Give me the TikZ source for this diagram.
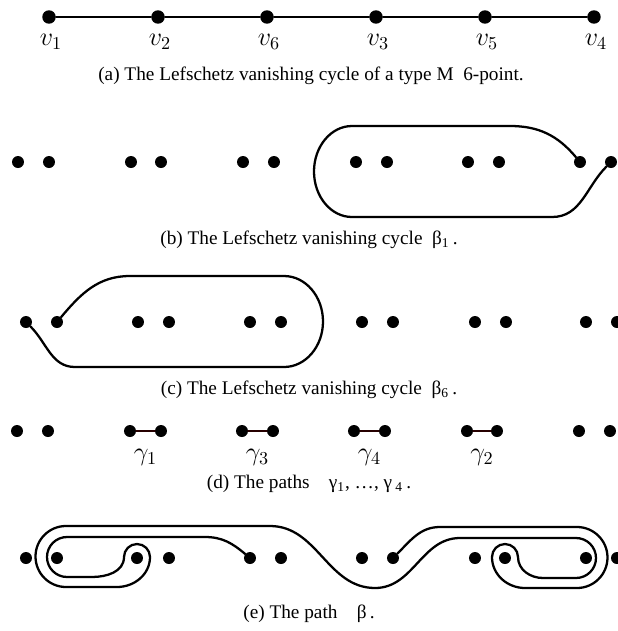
\documentclass[tikz,border=0pt]{standalone}
\usepackage{fontspec}
\setmainfont{Liberation Serif}
\usetikzlibrary{calc,positioning}

\begin{document}
\begin{tikzpicture}[x=0.55pt, y=0.55pt, line cap=round,
    dot/.style={circle, fill=black, inner sep=0pt, minimum size=6.6pt},
    bigdot/.style={dot, minimum size=7.4pt},
    curve/.style={line width=1.25pt},
    bond/.style={line width=1.4pt, draw=black!85!red},
    caption/.style={font=\fontsize{10.6}{12}\selectfont}]
    \useasboundingbox (0,0) rectangle (618,-631);
    \def\ra{-17}    % chain of the 6-point
    \def\rb{-162}   % cycle beta_1
    \def\rc{-322}   % cycle beta_6
    \def\rd{-431}   % paths gamma_i
    \def\re{-558}   % path beta

    % (a) The chain v_1 ... v_4
    \foreach \n/\x/\l in {1/49/v_1, 2/158/v_2, 3/267/v_6, 4/376/v_3, 5/485/v_5, 6/594/v_4}{
        \node[bigdot] (a\n) at (\x,\ra) {};
        \node (la\n) at (\x+2,\ra-25) {\Large $\l$};
    }
    \draw[line width=1.3pt] (a1) -- (a2) -- (a3) -- (a4) -- (a5) -- (a6);
    \node[caption] (capa) at (311,-76) {(a) The Lefschetz vanishing cycle of a type M\ \ 6-point.};

    % (b) Cycle beta_1 round the two right points
    \foreach \n/\x in {1/18, 2/49, 3/131, 4/161, 5/243, 6/274, 7/356, 8/387, 9/468, 10/499, 11/580, 12/611}
        \node[dot] (b\n) at (\x,\rb) {};
    \draw[curve] (b11) to[out=130, in=0] (510,-126) -- (352,-126)
        arc[start angle=90, end angle=270, x radius=38, y radius=45.5]
        -- (552,-217) to[out=0, in=-135] (b12);
    \node[caption] (capb) at (309,-240) {(b) The Lefschetz vanishing cycle\ \ β\textsubscript{1}\,.};

    % (c) Cycle beta_6 round the two left points
    \foreach \n/\x in {1/26, 2/57, 3/138, 4/169, 5/250, 6/281, 7/362, 8/393, 9/475, 10/506, 11/586, 12/617}
        \node[dot] (c\n) at (\x,\rc) {};
    \draw[curve] (c2) to[out=50, in=180] (130,-276) -- (284,-276)
        arc[start angle=90, end angle=-90, x radius=39, y radius=45.5]
        -- (75,-367) to[out=180, in=-45] (c1);
    \node[caption] (capc) at (309,-390) {(c) The Lefschetz vanishing cycle\ \ β\textsubscript{6}\,.};

    % (d) The paths gamma_1 ... gamma_4
    \foreach \n/\x in {1/17, 2/48, 3/130, 4/161, 5/242, 6/273, 7/354, 8/385, 9/467, 10/497, 11/579, 12/610}
        \node[dot] (d\n) at (\x,\rd) {};
    \foreach \p/\q/\k in {3/4/1, 5/6/3, 7/8/4, 9/10/2}
        \draw[bond] (d\p) -- (d\q) node[midway, below=6pt, text=black] (g\k) {\Large $\gamma_\k$};
    \node[caption] (capd) at (309,-484) {(d) The paths\quad γ\textsubscript{1}, \ldots, γ\,\textsubscript{4}\,.};

    % (e) The path beta
    \foreach \n/\x in {1/26, 2/57, 3/137, 4/169, 5/250, 6/281, 7/362, 8/393, 9/475, 10/505, 11/586, 12/617}
        \node[dot] (e\n) at (\x,\re) {};
    \draw[curve] (e5) to[out=140, in=0] (205,-537) -- (67,-537)
        arc[start angle=90, end angle=270, radius=20]
        -- (92,-577) to[out=0, in=-90] (124,-557)
        arc[start angle=180, end angle=0, radius=13]
        to[out=-90, in=0] (117,-587) -- (66,-587)
        arc[start angle=270, end angle=90, radius=30.5]
        -- (270,-526) to[out=0, in=180] (375,-588)
        to[out=0, in=180] (460,-538) -- (576,-538)
        arc[start angle=90, end angle=-90, radius=20]
        -- (543,-578) to[out=180, in=-90] (518,-557)
        arc[start angle=0, end angle=180, radius=13]
        to[out=-90, in=180] (525,-588) -- (577,-588)
        arc[start angle=-90, end angle=90, radius=30.5]
        -- (440,-527) to[out=180, in=45] (e8);
    \node[caption] (cape) at (309,-614) {(e) The path\quad β\,.};
\end{tikzpicture}
\end{document}
